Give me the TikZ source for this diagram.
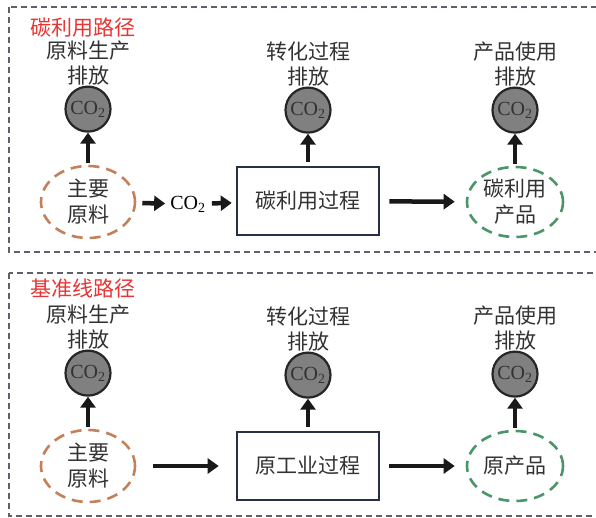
\documentclass[tikz,border=0pt]{standalone}
\usepackage{fontspec}
\setmainfont{Liberation Serif}
\newfontfamily\cjk{Noto Sans CJK SC}
\usetikzlibrary{positioning, arrows.meta, shapes.geometric}
\definecolor{pathred}{RGB}{232,52,52}
\definecolor{rawbrown}{RGB}{196,128,88}
\definecolor{prodgreen}{RGB}{74,150,104}
\definecolor{boxblue}{RGB}{40,48,70}
\definecolor{framegray}{RGB}{96,96,108}
\definecolor{co2gray}{RGB}{128,128,128}
\definecolor{inkgray}{RGB}{50,50,50}
\tikzset{
	x=1pt, y=-1pt, % one unit is one pixel of the page, y runs down
	node distance=32pt, % gap between a source node and its CO2 circle
	panel/.style={draw=framegray, line width=1.2pt, dash pattern=on 6pt off 4pt}, % dashed frame of a path
	pathtitle/.style={anchor=west, text=pathred, inner sep=0pt, font=\cjk\fontsize{21}{24}\selectfont},
	co2/.style={circle, draw=black!85, line width=2.2pt, fill=co2gray, minimum size=45pt, inner sep=0pt, text=inkgray, font=\fontsize{20}{20}\selectfont},
	emission/.style={above=-1pt of #1, align=center, inner sep=1pt, text=inkgray, font=\cjk\fontsize{21}{25}\selectfont},
	raw/.style={ellipse, draw=rawbrown, line width=2.6pt, dash pattern=on 11pt off 7pt, minimum width=94pt, minimum height=72pt, inner sep=0pt, align=center, text=inkgray, font=\cjk\fontsize{21}{26}\selectfont},
	product/.style={raw, draw=prodgreen, minimum width=96pt, minimum height=70pt},
	process/.style={rectangle, draw=boxblue, line width=2.6pt, minimum width=142pt, minimum height=68pt, text=inkgray, font=\cjk\fontsize{21}{24}\selectfont},
	flow/.style={-{Triangle[width=15pt,length=11pt]}, line width=4.5pt, draw=black!90}, % bold arrows
}
\begin{document}
\begin{tikzpicture}
	\useasboundingbox (0,0) rectangle (596,518);

	% carbon use path
	\draw[panel] (9,7) rectangle (598,252);
	\node[pathtitle] (title1) at (30,28) {碳利用路径};
	\node[raw] (raw1) at (88,202) {主要\\原料};
	\node[inner sep=2pt, text=black, font=\fontsize{20}{24}\selectfont] (gas1) at (188,204) {CO\textsubscript{2}};
	\node[process] (proc1) at (308,201) {碳利用过程};
	\node[product] (prod1) at (515,202) {碳利用\\产品};

	% baseline path
	\draw[panel] (9,273) rectangle (598,516);
	\node[pathtitle] (title2) at (30,288) {基准线路径};
	\node[raw] (raw2) at (88,466) {主要\\原料};
	\node[process] (proc2) at (308,466) {原工业过程};
	\node[product] (prod2) at (515,466) {原产品};

	% CO2 emitted above each stage
	\foreach \p in {1,2}
	{
		\node[co2, above=of raw\p] (co2a\p) {CO\textsubscript{2}};
		\node[co2, above=of proc\p] (co2b\p) {CO\textsubscript{2}};
		\node[co2, above=of prod\p] (co2c\p) {CO\textsubscript{2}};
		\node[emission=co2a\p] (laba\p) {原料生产\\排放};
		\node[emission=co2b\p] (labb\p) {转化过程\\排放};
		\node[emission=co2c\p] (labc\p) {产品使用\\排放};
		\draw[flow, shorten <=2pt] (raw\p) -- (co2a\p);
		\draw[flow, shorten <=4pt] (proc\p) -- (co2b\p);
		\draw[flow, shorten <=2pt] (prod\p) -- (co2c\p);
		\draw[flow, shorten <=9pt, shorten >=11pt] (proc\p) -- (prod\p);
	}

	\draw[flow, shorten <=6pt, shorten >=3pt] (raw1) -- (gas1);
	\draw[flow, shorten <=4pt, shorten >=4pt] (gas1) -- (proc1);
	\draw[flow, shorten <=17pt, shorten >=17pt] (raw2) -- (proc2);

\end{tikzpicture}
\end{document}
